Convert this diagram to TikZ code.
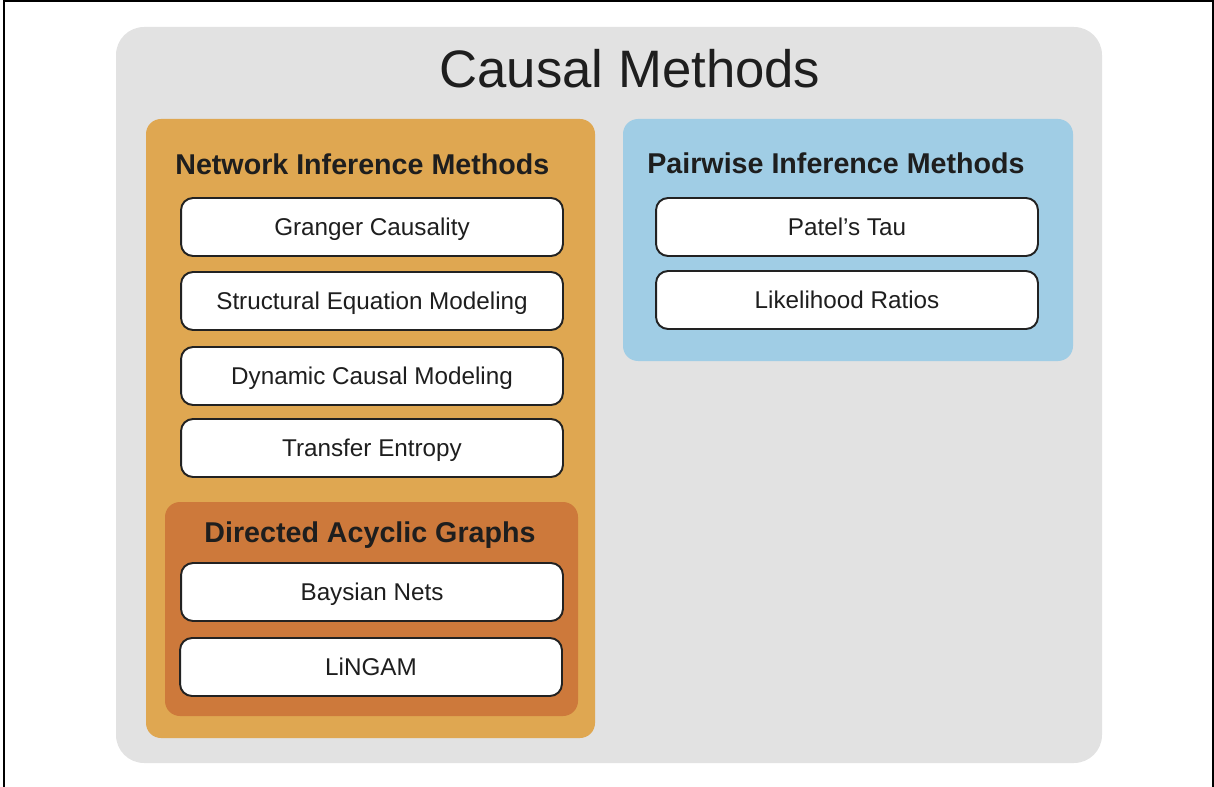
\documentclass[tikz,border=0pt]{standalone}
\usepackage{fontspec}
\setmainfont{Liberation Sans}
\definecolor{panelgrey}{HTML}{E2E2E2}
\definecolor{netorange}{HTML}{DFA751}
\definecolor{dagorange}{HTML}{CD793B}
\definecolor{pairblue}{HTML}{A0CDE5}
\definecolor{textdark}{HTML}{1E1E1E}
\definecolor{boxline}{HTML}{222222}
\begin{document}
\begin{tikzpicture}
		[x=0.02cm, y=-0.02cm,
		every node/.style={inner sep=0pt, text=textdark},
		methodbox/.style={draw=boxline, fill=white, line width=1.1pt, rounded corners=0.24cm,
			minimum width=7.64cm, minimum height=1.16cm, text height=9.9pt, text depth=0pt,
			font=\fontsize{13.8}{16}\selectfont},
		heading/.style={font=\fontsize{16.3}{19}\selectfont\bfseries}]
		\useasboundingbox (0,0) rectangle (1214,787);
		\draw[line width=1.2pt] (4,787) -- (4,1) -- (1213,1) -- (1213,787);
		
		\fill[panelgrey, rounded corners=0.56cm] (116,27) rectangle (1102,763);
		\fill[netorange, rounded corners=0.3cm] (146,119) rectangle (595,738);
		\fill[dagorange, rounded corners=0.3cm] (165,502) rectangle (578,716);
		\fill[pairblue, rounded corners=0.3cm] (623,119) rectangle (1073,361);
		
		\node[anchor=base, font=\fontsize{30}{36}\selectfont] (title) at (630,88) {Causal Methods};
		
		\node[heading, anchor=base west] (network) at (175,175) {Network Inference Methods};
		\node[methodbox] (granger) at (372,227) {Granger Causality};
		\node[methodbox] (sem) at (372,301) {Structural Equation Modeling};
		\node[methodbox] (dcm) at (372,376) {Dynamic Causal Modeling};
		\node[methodbox] (te) at (372,448) {Transfer Entropy};
		
		\node[heading, anchor=base] (dag) at (370,542) {Directed Acyclic Graphs};
		\node[methodbox] (bayes) at (372,592) {Baysian Nets};
		\node[methodbox] (lingam) at (371,667) {LiNGAM};
		
		\node[heading, anchor=base west] (pairwise) at (647,174) {Pairwise Inference Methods};
		\node[methodbox] (tau) at (847,227) {Patel's Tau};
		\node[methodbox] (lr) at (847,300) {Likelihood Ratios};
		\end{tikzpicture}
\end{document}
